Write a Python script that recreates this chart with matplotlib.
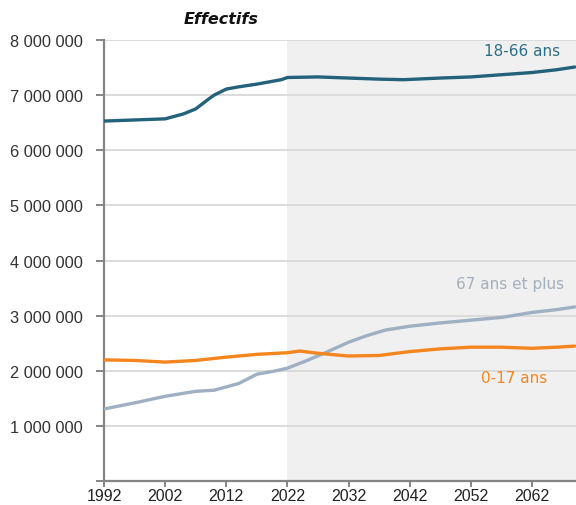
import matplotlib.pyplot as plt
from matplotlib.ticker import FuncFormatter

# values (millions of people)
years_adult = [1992, 1997, 2002, 2005, 2007, 2009, 2010, 2012, 2014, 2017, 2020, 2021, 2022, 2027, 2032,
               2037, 2041, 2047, 2052, 2057, 2062, 2066, 2069]
adult = [6.53, 6.55, 6.57, 6.66, 6.75, 6.92, 7.0, 7.11, 7.15, 7.2, 7.26, 7.28, 7.32, 7.33, 7.31,
         7.29, 7.28, 7.31, 7.33, 7.37, 7.41, 7.46, 7.51]

years_senior = [1992, 1997, 2002, 2007, 2010, 2012, 2014, 2017, 2020, 2022, 2025, 2028, 2032, 2035,
                2038, 2042, 2047, 2052, 2057, 2062, 2066, 2069]
senior = [1.31, 1.42, 1.54, 1.63, 1.65, 1.71, 1.77, 1.94, 2.0, 2.05, 2.18, 2.32, 2.52, 2.64,
          2.74, 2.81, 2.87, 2.92, 2.97, 3.06, 3.11, 3.16]

years_young = [1992, 1997, 2002, 2007, 2012, 2017, 2022, 2024, 2027, 2032, 2037, 2042, 2047, 2052,
               2057, 2062, 2066, 2069]
young = [2.20, 2.19, 2.16, 2.19, 2.25, 2.30, 2.33, 2.36, 2.32, 2.27, 2.28, 2.35, 2.40, 2.43,
         2.43, 2.41, 2.43, 2.45]

tick_years = [1992, 2002, 2012, 2022, 2032, 2042, 2052, 2062]
projection_start = 2022

teal = '#23627a'
grey = '#9eb0c1'
orange = '#f5861f'

fig = plt.figure(figsize=(5.76, 5.06), dpi=100)
ax = fig.add_axes([0.1806, 0.047, 0.8194, 0.872])

ax.axvspan(projection_start, 2080, color='#f0f0f0', zorder=0, lw=0)

ax.plot(years_adult, [v * 1e6 for v in adult], color=teal, lw=2.4, solid_capstyle='round', zorder=3)
ax.plot(years_senior, [v * 1e6 for v in senior], color=grey, lw=2.4, solid_capstyle='round', zorder=3)
ax.plot(years_young, [v * 1e6 for v in young], color=orange, lw=2.4, solid_capstyle='round', zorder=4)

ax.set_xlim(1992, 2069.2)
ax.set_ylim(0, 8e6)
ax.set_yticks([i * 1e6 for i in range(0, 9)])
ax.yaxis.set_major_formatter(FuncFormatter(lambda v, p: '' if v == 0 else f'{int(v):,}'.replace(',', ' ')))
ax.set_xticks(tick_years)

ax.grid(axis='y', color='#d9d9d9', lw=1.3, zorder=1)
ax.set_axisbelow(True)
for s in ['top', 'right']:
    ax.spines[s].set_visible(False)
for s in ['left', 'bottom']:
    ax.spines[s].set_color('#858585')
    ax.spines[s].set_linewidth(1.6)
ax.tick_params(axis='y', color='#858585', width=1.4, length=6, pad=9)
ax.tick_params(axis='x', color='#858585', width=1.4, length=4, pad=1)
for lab in ax.get_yticklabels():
    lab.set_fontfamily('Liberation Sans')
    lab.set_fontsize(11.8)
    lab.set_color('#333333')
for lab in ax.get_xticklabels():
    lab.set_fontfamily('Liberation Sans')
    lab.set_fontsize(11.5)
    lab.set_color('#222222')

fig.text(0.318, 0.962, 'Effectifs', fontsize=11.5, fontweight='bold', fontstyle='italic',
         color='#111111', family='DejaVu Sans', va='center')

ax.text(2060.4, 7.81e6, '18-66 ans', color='#2e6e85', fontsize=11, ha='center', va='center')
ax.text(2058.4, 3.58e6, '67 ans et plus', color='#a3b0bc', fontsize=11, ha='center', va='center')
ax.text(2059.0, 1.88e6, '0-17 ans', color=orange, fontsize=11, ha='center', va='center')

fig.savefig('out.png', dpi=100)
